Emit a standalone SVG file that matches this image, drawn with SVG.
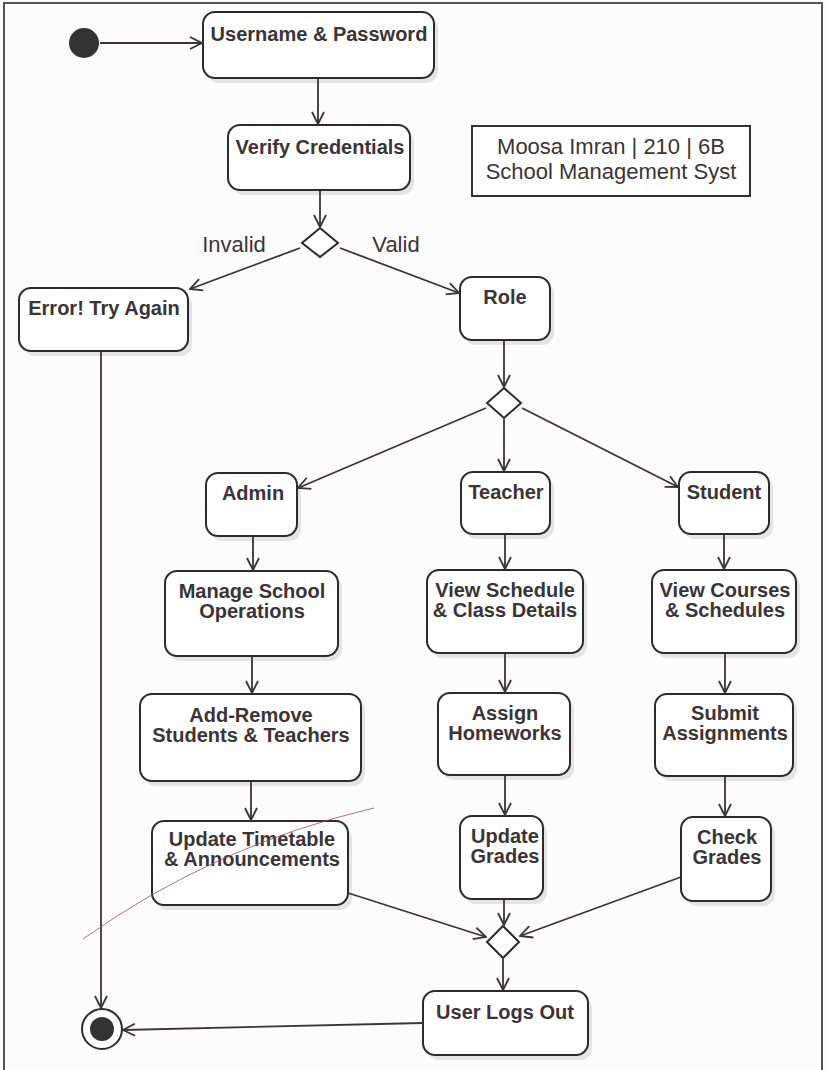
<svg xmlns="http://www.w3.org/2000/svg" width="828" height="1070" viewBox="0 0 828 1070">
<style>
.n{fill:#fff;stroke:#2e2a2b;stroke-width:2}
.sh{fill:#e4e4e4}
.t{font-family:"Liberation Sans",Arial,sans-serif;font-weight:bold;font-size:20px;fill:#3a3436;text-anchor:middle}
.l{font-family:"Liberation Sans",Arial,sans-serif;font-size:22px;fill:#3a3436;text-anchor:middle}
.c{fill:none;stroke:#3a3436;stroke-width:1.8;marker-end:url(#a)}
</style>
<defs>
<marker id="a" viewBox="0 0 14 14" refX="13" refY="7" markerWidth="14" markerHeight="14" markerUnits="userSpaceOnUse" orient="auto">
<path d="M1,1 L13,7 L1,13" fill="none" stroke="#3a3436" stroke-width="1.8"/>
</marker>
</defs>
<rect width="828" height="1070" fill="#fcfcfc"/>
<path d="M4,1070 V3 H822 V1070" fill="none" stroke="#555" stroke-width="2"/>

<g id="start"><circle cx="84" cy="43" r="15" fill="#333"/></g>

<g id="n1"><rect class="sh" x="207" y="17" width="231" height="66" rx="12"/><rect class="n" x="203" y="12" width="231" height="66" rx="12"/><text class="t" x="319" y="41">Username &amp; Password</text></g>
<g id="n2"><rect class="sh" x="232" y="130" width="182" height="65" rx="12"/><rect class="n" x="228" y="125" width="182" height="65" rx="12"/><text class="t" x="320" y="154">Verify Credentials</text></g>
<g id="d1"><path class="n" d="M320,228 L338,243 L320,257 L302,243 Z"/></g>
<g id="n3"><rect class="sh" x="23" y="293" width="169" height="63" rx="12"/><rect class="n" x="19" y="288" width="169" height="63" rx="12"/><text class="t" x="104" y="315">Error! Try Again</text></g>
<g id="n4"><rect class="sh" x="464" y="282" width="90" height="63" rx="12"/><rect class="n" x="460" y="277" width="90" height="63" rx="12"/><text class="t" x="505" y="304">Role</text></g>
<g id="title"><rect x="472" y="126" width="278" height="70" fill="#fff" stroke="#333" stroke-width="2"/><text class="l" x="611" y="154" font-size="23.5">Moosa Imran | 210 | 6B</text><text class="l" x="611" y="179" font-size="23.5">School Management Syst</text></g>
<g id="d2"><path class="n" d="M504,388 L521,403 L504,418 L487,403 Z"/></g>
<g id="n5"><rect class="sh" x="210" y="478" width="91" height="63" rx="12"/><rect class="n" x="206" y="473" width="91" height="63" rx="12"/><text class="t" x="253" y="500">Admin</text></g>
<g id="n6"><rect class="sh" x="465" y="477" width="89" height="62" rx="12"/><rect class="n" x="461" y="472" width="89" height="62" rx="12"/><text class="t" x="506" y="499">Teacher</text></g>
<g id="n7"><rect class="sh" x="683" y="477" width="90" height="62" rx="12"/><rect class="n" x="679" y="472" width="90" height="62" rx="12"/><text class="t" x="724" y="499">Student</text></g>
<g id="n8"><rect class="sh" x="169" y="576" width="173" height="85" rx="12"/><rect class="n" x="165" y="571" width="173" height="85" rx="12"/><text class="t" x="252" y="598">Manage School</text><text class="t" x="252" y="618">Operations</text></g>
<g id="n9"><rect class="sh" x="431" y="575" width="156" height="83" rx="12"/><rect class="n" x="427" y="570" width="156" height="83" rx="12"/><text class="t" x="505" y="597">View Schedule</text><text class="t" x="505" y="617">&amp; Class Details</text></g>
<g id="n10"><rect class="sh" x="656" y="575" width="144" height="83" rx="12"/><rect class="n" x="652" y="570" width="144" height="83" rx="12"/><text class="t" x="725" y="597">View Courses</text><text class="t" x="725" y="617">&amp; Schedules</text></g>
<g id="n11"><rect class="sh" x="144" y="699" width="221" height="87" rx="12"/><rect class="n" x="140" y="694" width="221" height="87" rx="12"/><text class="t" x="251" y="722">Add-Remove</text><text class="t" x="251" y="742">Students &amp; Teachers</text></g>
<g id="n12"><rect class="sh" x="442" y="698" width="132" height="82" rx="12"/><rect class="n" x="438" y="693" width="132" height="82" rx="12"/><text class="t" x="505" y="720">Assign</text><text class="t" x="505" y="740">Homeworks</text></g>
<g id="n13"><rect class="sh" x="659" y="699" width="138" height="82" rx="12"/><rect class="n" x="655" y="694" width="138" height="82" rx="12"/><text class="t" x="725" y="720">Submit</text><text class="t" x="725" y="740">Assignments</text></g>
<g id="n14"><rect class="sh" x="156" y="826" width="196" height="84" rx="12"/><rect class="n" x="152" y="821" width="196" height="84" rx="12"/><text class="t" x="252" y="846">Update Timetable</text><text class="t" x="252" y="866">&amp; Announcements</text></g>
<g id="n15"><rect class="sh" x="464" y="821" width="83" height="83" rx="12"/><rect class="n" x="460" y="816" width="83" height="83" rx="12"/><text class="t" x="505" y="843">Update</text><text class="t" x="505" y="863">Grades</text></g>
<g id="n16"><rect class="sh" x="685" y="822" width="90" height="84" rx="12"/><rect class="n" x="681" y="817" width="90" height="84" rx="12"/><text class="t" x="727" y="844">Check</text><text class="t" x="727" y="864">Grades</text></g>
<g id="d3"><path class="n" d="M503,926 L519,942 L503,958 L487,942 Z"/></g>
<g id="n17"><rect class="sh" x="427" y="996" width="165" height="64" rx="12"/><rect class="n" x="423" y="991" width="165" height="64" rx="12"/><text class="t" x="505" y="1019">User Logs Out</text></g>
<g id="end"><circle cx="102" cy="1029" r="20" fill="#fff" stroke="#2e2a2b" stroke-width="2"/><circle cx="102" cy="1029" r="12" fill="#333"/></g>

<g id="labels"><text class="l" x="234" y="252">Invalid</text><text class="l" x="396" y="252">Valid</text></g>

<g id="connectors">
<path class="c" d="M100,43 H202"/>
<path class="c" d="M318,79 V124"/>
<path class="c" d="M320,191 V227"/>
<path class="c" d="M300,248 L190,289"/>
<path class="c" d="M340,248 L459,293"/>
<path class="c" d="M504,341 V387"/>
<path class="c" d="M486,408 L298,488"/>
<path class="c" d="M504,419 V471"/>
<path class="c" d="M522,408 L678,487"/>
<path class="c" d="M253,537 V570"/>
<path class="c" d="M505,535 V569"/>
<path class="c" d="M724,535 V569"/>
<path class="c" d="M252,657 V693"/>
<path class="c" d="M505,654 V692"/>
<path class="c" d="M725,654 V693"/>
<path class="c" d="M251,782 V820"/>
<path class="c" d="M505,776 V815"/>
<path class="c" d="M725,777 V816"/>
<path class="c" d="M348,893 L486,937"/>
<path class="c" d="M504,900 V925"/>
<path class="c" d="M681,877 L520,936"/>
<path class="c" d="M503,959 V990"/>
<path class="c" d="M423,1023 L123,1030"/>
<path class="c" d="M101,352 V1008"/>
</g>
<path d="M83,939 Q215,845 374,808" fill="none" stroke="#a05060" stroke-width="1" opacity="0.8"/>
</svg>
